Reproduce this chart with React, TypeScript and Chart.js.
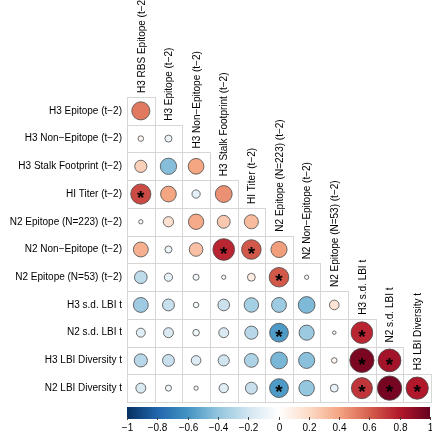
import React, { useEffect, useRef } from "react";
import { Chart, registerables } from "chart.js";

Chart.register(...registerables);

const rowLabels = [
  "H3 Epitope (t−2)",
  "H3 Non−Epitope (t−2)",
  "H3 Stalk Footprint (t−2)",
  "HI Titer (t−2)",
  "N2 Epitope (N=223) (t−2)",
  "N2 Non−Epitope (t−2)",
  "N2 Epitope (N=53) (t−2)",
  "H3 s.d. LBI t",
  "N2 s.d. LBI t",
  "H3 LBI Diversity t",
  "N2 LBI Diversity t",
];

const colLabels = [
  "H3 RBS Epitope (t−2)",
  "H3 Epitope (t−2)",
  "H3 Non−Epitope (t−2)",
  "H3 Stalk Footprint (t−2)",
  "HI Titer (t−2)",
  "N2 Epitope (N=223) (t−2)",
  "N2 Non−Epitope (t−2)",
  "N2 Epitope (N=53) (t−2)",
  "H3 s.d. LBI t",
  "N2 s.d. LBI t",
  "H3 LBI Diversity t",
];

const row0 = [0.53];
const row1 = [0.05, -0.08];
const row2 = [0.24, -0.43, 0.4];
const row3 = [0.66, 0.4, -0.11, 0.46];
const row4 = [0.03, 0.17, 0.38, 0.27, 0.32];
const row5 = [0.36, -0.08, 0.3, 0.76, 0.62, 0.42];
const row6 = [-0.26, -0.11, -0.06, 0.03, 0.1, 0.62, 0.03];
const row7 = [-0.36, -0.23, -0.05, -0.22, -0.34, -0.36, -0.45, 0.15];
const row8 = [-0.13, -0.16, -0.07, -0.16, -0.28, -0.57, -0.37, 0.02, 0.76];
const row9 = [-0.28, -0.23, -0.15, -0.2, -0.31, -0.46, -0.42, 0.05, 0.95, 0.84];
const row10 = [-0.16, -0.06, -0.03, -0.14, -0.23, -0.57, -0.39, -0.1, 0.72, 0.96, 0.8];
const corrRows = [row0, row1, row2, row3, row4, row5, row6, row7, row8, row9, row10];

// significant cells, per row: column indices marked with *
const sigCols = [[], [], [], [0], [], [3, 4], [5], [], [5, 8], [8, 9], [5, 8, 9, 10]];

const colorbarTicks = [-1, -0.8, -0.6, -0.4, -0.2, 0, 0.2, 0.4, 0.6, 0.8, 1];
const paletteStops = [
  "#053061", "#2166AC", "#4393C3", "#92C5DE", "#D1E5F0", "#FFFFFF",
  "#FDDBC7", "#F4A582", "#D6604D", "#B2182B", "#67001F",
];

const FONT = "'Liberation Sans', Arial, sans-serif";

function hexToRgb(h: string) {
  const n = parseInt(h.slice(1), 16);
  return [(n >> 16) & 255, (n >> 8) & 255, n & 255];
}

function colorFor(v: number) {
  const t = ((Math.max(-1, Math.min(1, v)) + 1) / 2) * (paletteStops.length - 1);
  const i = Math.min(Math.floor(t), paletteStops.length - 2);
  const f = t - i;
  const a = hexToRgb(paletteStops[i]);
  const b = hexToRgb(paletteStops[i + 1]);
  const c = a.map((x, k) => Math.round(x + (b[k] - x) * f));
  return "rgb(" + c[0] + "," + c[1] + "," + c[2] + ")";
}

const formatTick = (v: number) => (v < 0 ? "−" + String(Math.abs(v)) : String(v));

const gridPlugin = {
  id: "cellGrid",
  beforeDatasetsDraw(chart: any) {
    const ctx = chart.ctx;
    const xs = chart.scales.x;
    const ys = chart.scales.y;
    ctx.save();
    ctx.strokeStyle = "#d6d6d6";
    ctx.lineWidth = 1;
    for (let i = 0; i < corrRows.length; i++) {
      for (let j = 0; j < corrRows[i].length; j++) {
        const x0 = Math.round(xs.getPixelForValue(j - 0.5)) + 0.5;
        const x1 = Math.round(xs.getPixelForValue(j + 0.5)) + 0.5;
        const y0 = Math.round(ys.getPixelForValue(i - 0.5)) + 0.5;
        const y1 = Math.round(ys.getPixelForValue(i + 0.5)) + 0.5;
        ctx.strokeRect(x0, y0, x1 - x0, y1 - y0);
      }
    }
    ctx.restore();
  },
};

const labelPlugin = {
  id: "labels",
  afterDraw(chart: any) {
    const ctx = chart.ctx;
    const xs = chart.scales.x;
    const ys = chart.scales.y;
    const ca = chart.chartArea;

    ctx.save();
    ctx.fillStyle = "#000";
    ctx.font = "10px " + FONT;
    ctx.textAlign = "right";
    ctx.textBaseline = "middle";
    for (let i = 0; i < rowLabels.length; i++) {
      ctx.fillText(rowLabels[i], ca.left - 5, ys.getPixelForValue(i));
    }
    ctx.restore();

    for (let j = 0; j < colLabels.length; j++) {
      ctx.save();
      ctx.fillStyle = "#000";
      ctx.font = "10px " + FONT;
      ctx.textAlign = "left";
      ctx.textBaseline = "middle";
      ctx.translate(xs.getPixelForValue(j) + 1, ys.getPixelForValue(j - 0.5) - 4);
      ctx.rotate(-Math.PI / 2);
      ctx.fillText(colLabels[j], 0, 0);
      ctx.restore();
    }

    ctx.save();
    ctx.fillStyle = "#000";
    ctx.font = "bold 19px " + FONT;
    ctx.textAlign = "center";
    ctx.textBaseline = "middle";
    for (let i = 0; i < sigCols.length; i++) {
      for (const j of sigCols[i]) {
        ctx.fillText("*", xs.getPixelForValue(j), ys.getPixelForValue(i) + 5);
      }
    }
    ctx.restore();

    ctx.save();
    const left = ca.left;
    const right = ca.right - 1;
    const top = ca.bottom + 5;
    const h = 12;
    const grad = ctx.createLinearGradient(left, 0, right, 0);
    paletteStops.forEach((c, k) => grad.addColorStop(k / (paletteStops.length - 1), c));
    ctx.fillStyle = grad;
    ctx.fillRect(left, top, right - left, h);
    ctx.strokeStyle = "#444";
    ctx.lineWidth = 1;
    ctx.fillStyle = "#000";
    ctx.font = "10px " + FONT;
    ctx.textAlign = "center";
    ctx.textBaseline = "middle";
    for (const v of colorbarTicks) {
      const x = Math.round(left + ((v + 1) / 2) * (right - left)) + 0.5;
      ctx.beginPath();
      ctx.moveTo(x, top + h - 2);
      ctx.lineTo(x, top + h + 1);
      ctx.stroke();
      ctx.fillText(formatTick(v), x, top + h + 9);
    }
    ctx.restore();
  },
};

export default function App() {
  const holder = useRef<HTMLDivElement>(null);
  useEffect(() => {
    document.body.style.margin = "0";
    const host = holder.current;
    if (!host) return;
    const canvas = document.createElement("canvas");
    canvas.width = 432;
    canvas.height = 440;
    canvas.style.width = "432px";
    canvas.style.height = "440px";
    canvas.style.display = "block";
    host.appendChild(canvas);
    const points: any[] = [];
    const radii: number[] = [];
    const colors: string[] = [];
    const cell = (432 - 127 - 1) / 11;
    corrRows.forEach((row, i) =>
      row.forEach((v, j) => {
        points.push({ x: j, y: i });
        radii.push(0.45 * Math.sqrt(Math.abs(v)) * cell);
        colors.push(colorFor(v));
      })
    );
    const chart = new Chart(canvas, {
      type: "scatter",
      data: {
        datasets: [
          {
            data: points,
            backgroundColor: colors,
            borderColor: "#4a4a4a",
            borderWidth: 0.8,
            pointRadius: radii,
            pointHoverRadius: radii,
          },
        ],
      },
      options: {
        responsive: false,
        animation: false,
        events: [],
        layout: { autoPadding: false, padding: { left: 127, right: 1, top: 97, bottom: 38 } },
        plugins: { legend: { display: false }, tooltip: { enabled: false } },
        scales: {
          x: { type: "linear", min: -0.5, max: 10.5, display: false },
          y: { type: "linear", min: -0.5, max: 10.5, reverse: true, display: false },
        },
      },
      plugins: [gridPlugin, labelPlugin],
    });
    return () => {
      chart.destroy();
      if (canvas.parentNode) canvas.parentNode.removeChild(canvas);
    };
  }, []);
  return <div ref={holder} style={{ position: "relative", width: 432, height: 440, background: "#fff" }} />;
}
